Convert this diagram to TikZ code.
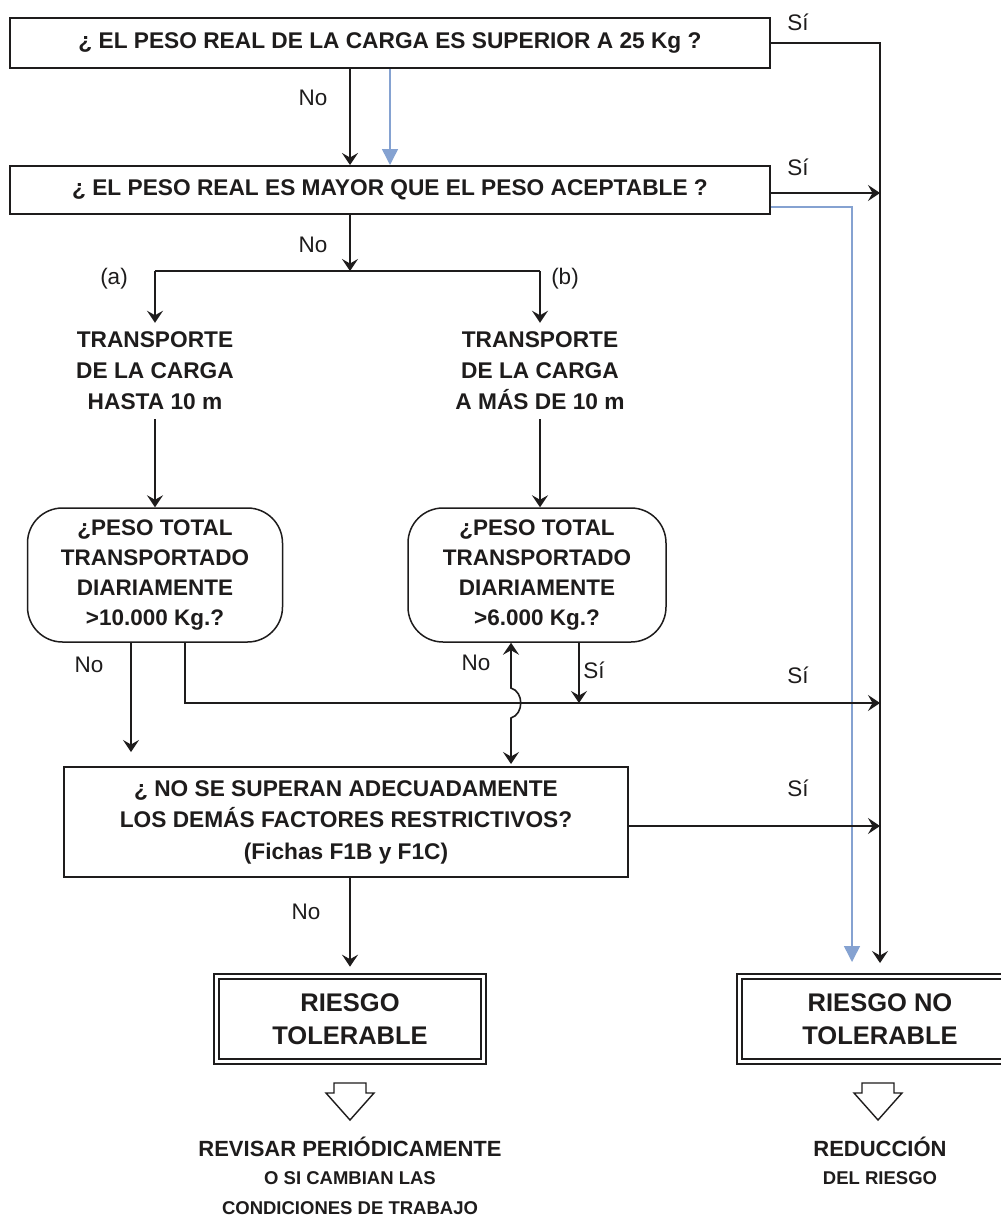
\documentclass[tikz,border=0pt]{standalone}
\usepackage{fontspec}
\setmainfont{Liberation Sans}
\usetikzlibrary{arrows.meta}
\definecolor{bluearr}{RGB}{133,162,209}
\definecolor{ink}{RGB}{30,28,28}
\tikzset{
  box/.style={draw=ink, line width=2pt, inner sep=0pt, align=center, text=ink,
    font=\bfseries\fontsize{22.7}{31.5}\selectfont},
  rbox/.style={box, rounded corners=35pt, line width=1.5pt, font=\bfseries\fontsize{22.5}{30}\selectfont},
  dbox/.style={draw=ink, double, double distance=3.4pt, line width=1.6pt, inner sep=0pt,
    align=center, text=ink, font=\bfseries\fontsize{25.5}{33}\selectfont},
  ttext/.style={inner xsep=0pt, inner ysep=9pt, align=center, text=ink,
    font=\bfseries\fontsize{22.7}{31}\selectfont},
  lab/.style={inner sep=0pt, text=ink, font=\fontsize{22.5}{27}\selectfont},
  bigtxt/.style={inner sep=0pt, text=ink, font=\bfseries\fontsize{22}{26}\selectfont},
  smalltxt/.style={inner sep=0pt, text=ink, font=\bfseries\fontsize{18.5}{22}\selectfont},
  conn/.style={draw=ink, line width=1.6pt},
  arr/.style={conn, -{Stealth[length=12pt,width=16pt,inset=4.5pt]}},
  darr/.style={conn, {Stealth[length=12pt,width=16pt,inset=4.5pt]}-{Stealth[length=12pt,width=16pt,inset=4.5pt]}},
  barr/.style={draw=bluearr, line width=1.5pt, -{Triangle[length=16pt,width=16pt]}},
  hollow/.style={draw=ink, line width=1.4pt, line join=miter, fill=white}
}
\begin{document}
\begin{tikzpicture}[x=1pt,y=-1pt]
\useasboundingbox[fill=white] (0,0) rectangle (1001,1218);

% main question boxes
\node[box, minimum width=760pt, minimum height=50pt] (q1) at (390,43) {¿ EL PESO REAL DE LA CARGA ES SUPERIOR A 25 Kg ?};
\node[box, minimum width=760pt, minimum height=48pt] (q2) at (390,190) {¿ EL PESO REAL ES MAYOR QUE EL PESO ACEPTABLE ?};

% transport texts
\node[ttext] (t1) at (155,371) {TRANSPORTE\\DE LA CARGA\\HASTA 10 m};
\node[ttext] (t2) at (540,371) {TRANSPORTE\\DE LA CARGA\\A MÁS DE 10 m};

% rounded question boxes
\node[rbox, minimum width=255pt, minimum height=134pt] (r1) at (155,575) {¿PESO TOTAL\\TRANSPORTADO\\DIARIAMENTE\\>10.000 Kg.?};
\node[rbox, minimum width=258pt, minimum height=134pt] (r2) at (537,575) {¿PESO TOTAL\\TRANSPORTADO\\DIARIAMENTE\\>6.000 Kg.?};

% third question
\node[box, minimum width=564pt, minimum height=110pt] (q3) at (346,822) {¿ NO SE SUPERAN ADECUADAMENTE\\LOS DEMÁS FACTORES RESTRICTIVOS?\\(Fichas F1B y F1C)};

% result boxes
\node[dbox, minimum width=267pt, minimum height=85pt] (d1) at (350,1019) {RIESGO\\TOLERABLE};
\node[dbox, minimum width=281pt, minimum height=85pt] (d2) at (880,1019) {RIESGO NO\\TOLERABLE};

% bottom texts
\node[bigtxt] (b1) at (350,1147) {REVISAR PERIÓDICAMENTE};
\node[smalltxt] (b2) at (350,1178) {O SI CAMBIAN LAS};
\node[smalltxt] (b3) at (350,1208) {CONDICIONES DE TRABAJO};
\node[bigtxt] (c1) at (880,1147) {REDUCCIÓN};
\node[smalltxt] (c2) at (880,1178) {DEL RIESGO};

% coordinates
\coordinate (rt) at (880,963);
\coordinate (bt) at (852,962);
\coordinate (j2) at (880,193);
\coordinate (j3) at (880,826);
\coordinate (brc) at (350,271);
\coordinate (brl) at (155,271);
\coordinate (brr) at (540,271);
\coordinate (n1) at (131,752);
\coordinate (h1) at (185,703);
\coordinate (h2) at (880,703);
\coordinate (s2) at (579,703);
\coordinate (dd) at (511,764);
\coordinate (ha) at (350,1083);
\coordinate (hb) at (878,1083);

% connectors
\draw[arr] ([xshift=-40pt]q1.south) -- ([xshift=-40pt]q2.north);
\draw[barr] (q1.south) -- (q2.north);
\draw[arr] (q1.east) -| (rt);
\draw[arr] ([yshift=-3pt]q2.east) -- (j2);
\draw[barr] ([yshift=-17pt]q2.east) -| (bt);
\draw[arr] ([xshift=-40pt]q2.south) -- (brc);
\draw[conn] (brl) -- (brr);
\draw[arr] (brl) -- (t1.north);
\draw[arr] (brr) -- (t2.north);
\draw[arr] (t1.south) -- (t1.south |- r1.north);
\draw[arr] (t2.south) -- (t2.south |- r2.north);
\draw[arr] (r1.south -| n1) -- (n1);
\draw[arr] (r1.south -| h1) -- (h1) -- (h2);
\draw[arr] (r2.south -| s2) -- (s2);
\draw[darr] (r2.south -| dd) -- (511,688) .. controls (524,692) and (524,714) .. (511,718) -- (dd);
\draw[arr] ([yshift=-4pt]q3.east) -- (j3);
\draw[arr, shorten >=9pt] (q3.south -| d1.north) -- (d1.north);

% hollow arrows
\draw[hollow, shift={(ha)}] (-16,0) -- (16,0) -- (16,10) -- (24,10) -- (0,37) -- (-24,10) -- (-16,10) -- cycle;
\draw[hollow, shift={(hb)}] (-16,0) -- (16,0) -- (16,10) -- (24,10) -- (0,37) -- (-24,10) -- (-16,10) -- cycle;

% labels
\node[lab] (l1) at (798,22) {Sí};
\node[lab] (l2) at (798,167) {Sí};
\node[lab] (l3) at (798,675) {Sí};
\node[lab] (l4) at (798,788) {Sí};
\node[lab] (l5) at (594,670) {Sí};
\node[lab] (l6) at (313,98) {No};
\node[lab] (l7) at (313,245) {No};
\node[lab] (l8) at (89,665) {No};
\node[lab] (l9) at (476,663) {No};
\node[lab] (l10) at (306,912) {No};
\node[lab] (l11) at (114,279) {(a)};
\node[lab] (l12) at (565,279) {(b)};
\end{tikzpicture}
\end{document}
